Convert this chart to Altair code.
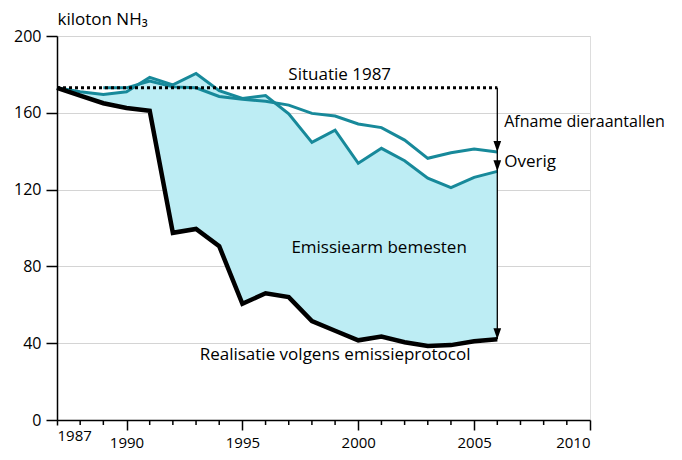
import altair as alt
import pandas as pd

# ---- data ----
years = list(range(1987, 2007))
realisatie = [173, 169, 165, 162.5, 161, 97.5, 99.5, 90.5, 60.5, 66, 64, 51.5,
              46.5, 41.5, 43.5, 40.5, 38.5, 39, 41, 42]
lijn_overig = [173, 171, 169.5, 171, 178.5, 174.5, 180.5, 171.5, 167.5, 169, 159.5,
               144.6, 151, 133.7, 141.5, 135, 126, 121, 126.4, 129.5]
years_dier = list(range(1989, 2007))
lijn_dier = [173, 173, 176.5, 173.5, 173, 168.5, 167, 166, 164, 159.7, 158.3, 154.2,
             152.3, 145.8, 136.3, 139.2, 141.1, 139.6]
situatie_1987 = 173

label_text = ["Situatie 1987", "Afname dieraantallen", "Overig",
              "Emissiearm bemesten", "Realisatie volgens emissieprotocol"]
label_x = [1999.2, 2006.3, 2006.3, 2000.9, 1999.0]
label_y = [179.5, 155, 134.5, 89.5, 34]
label_size = [17, 16, 17, 17, 17]
label_align = ["center", "left", "left", "center", "center"]

x_label_values = [1987, 1990, 1995, 2000, 2005, 2010]
x_minor_ticks = [y for y in range(1987, 2011) if y not in x_label_values]
y_tick_values = list(range(0, 201, 20))

TEAL = "#17899a"
FILL = "#bdedf4"
FONT = "Open Sans"

main = pd.DataFrame({"jaar": years, "realisatie": realisatie, "overig": lijn_overig})
dier = pd.DataFrame({"jaar": years_dier, "dier": lijn_dier})
sit = pd.DataFrame({"jaar": [years[0], years[-1]], "waarde": [situatie_1987, situatie_1987]})
arrow = pd.DataFrame({"jaar": [years[-1]], "top": [situatie_1987], "bottom": [realisatie[-1]]})
heads = pd.DataFrame({"jaar": [years[-1]] * 3,
                      "waarde": [lijn_dier[-1], lijn_overig[-1], realisatie[-1]]})
minor = pd.DataFrame({"jaar": x_minor_ticks, "waarde": [0] * len(x_minor_ticks)})

xscale = alt.Scale(domain=[1987, 2010], nice=False, zero=False)
yscale = alt.Scale(domain=[0, 200], nice=False)

x_axis = alt.Axis(
    values=x_label_values,
    labelOverlap=False,
    grid=False,
    domainColor="black", domainWidth=1.5,
    tickColor="black", tickWidth=1.5,
    tickSize={"condition": {"test": "datum.value == 1987", "value": 5}, "value": 10},
    labelPadding={"condition": {"test": "datum.value == 1987", "value": 3}, "value": 5},
    labelFont=FONT, labelFontSize=15, labelColor="black",
    title=None, format="d",
)
y_axis = alt.Axis(
    values=y_tick_values,
    labelExpr="datum.value % 40 == 0 ? datum.value : ''",
    labelOverlap=False,
    grid=True, gridColor="#d4d4d4", gridWidth=1,
    gridOpacity={"condition": {"test": "datum.value % 40 == 0 && datum.value > 0", "value": 1}, "value": 0},
    domainColor="black", domainWidth=1.5,
    tickColor="black", tickWidth=1.5,
    tickSize={"condition": {"test": "datum.value % 40 == 0", "value": 11}, "value": 6},
    labelPadding=5,
    labelFont=FONT, labelFontSize=16, labelColor="black",
    title="kiloton NH₃", titleAngle=0, titleAlign="left", titleBaseline="bottom",
    titleX=0, titleY=-8, titleFont=FONT, titleFontSize=17, titleFontWeight="normal",
    titleColor="black",
)

base = alt.Chart(main)

area = base.mark_area(color=FILL, opacity=1).encode(
    x=alt.X("jaar:Q", scale=xscale, axis=x_axis),
    y=alt.Y("overig:Q", scale=yscale, axis=y_axis),
    y2="realisatie:Q",
)
line_overig = base.mark_line(color=TEAL, strokeWidth=3, strokeJoin="miter").encode(
    x="jaar:Q", y="overig:Q")
line_dier = alt.Chart(dier).mark_line(color=TEAL, strokeWidth=3, strokeJoin="miter").encode(
    x="jaar:Q", y="dier:Q")
line_real = base.mark_line(color="black", strokeWidth=4.5, strokeJoin="miter").encode(
    x="jaar:Q", y="realisatie:Q")
dotted = alt.Chart(sit).mark_line(color="black", strokeWidth=3, strokeDash=[3, 3]).encode(
    x="jaar:Q", y="waarde:Q")
rule = alt.Chart(arrow).mark_rule(color="black", strokeWidth=1.3).encode(
    x="jaar:Q", y="top:Q", y2="bottom:Q")
tri = alt.Chart(heads).mark_point(
    shape="M-0.7,-1L0.7,-1L0,1Z", filled=True, color="black", opacity=1,
    size=121, yOffset=-5.5, strokeWidth=0,
).encode(x="jaar:Q", y="waarde:Q")
minor_ticks = alt.Chart(minor).mark_tick(
    orient="vertical", color="black", thickness=1.5, size=5, yOffset=2.5, opacity=1,
).encode(x="jaar:Q", y="waarde:Q")

texts = []
for t, lx, ly, ls, la in zip(label_text, label_x, label_y, label_size, label_align):
    df = pd.DataFrame({"tekst": [t], "jaar": [lx], "waarde": [ly]})
    texts.append(
        alt.Chart(df).mark_text(align=la, baseline="middle", font=FONT,
                                fontSize=ls, color="black").encode(
            x="jaar:Q", y="waarde:Q", text="tekst:N")
    )

chart = alt.layer(area, line_overig, line_dier, line_real, dotted, rule, tri,
                  minor_ticks, *texts).properties(
    width=533, height=384,
    autosize=alt.AutoSizeParams(type="none"),
    padding={"left": 49, "top": 28, "right": 84, "bottom": 32},
).configure_view(stroke=None).configure_axis(labelOverlap=False).configure(background="white")

chart.save("out.html", embed_options={"renderer": "svg", "actions": False})
